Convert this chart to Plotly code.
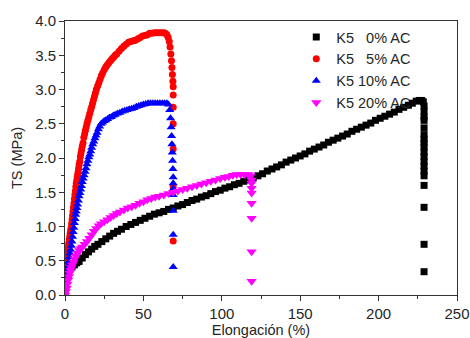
import plotly.graph_objects as go

# ---- data ----
k0_x = [0, 1, 2, 3, 4.5, 6, 7.5, 9, 11, 13,
        15, 17, 19, 21, 23.5, 26, 28.5, 31, 33.5, 36,
        39, 42, 45, 48, 51, 54, 57, 60, 63, 66,
        69, 72, 75, 78, 81, 84, 87, 90, 93, 96,
        99, 102, 105, 108, 111, 114, 117, 120, 123, 126,
        129, 132, 135, 138, 141, 144, 147, 150, 153, 156,
        159, 162, 165, 168, 171, 174, 177, 180, 183, 186,
        189, 192, 195, 198, 201, 204, 207, 210, 213, 216,
        219, 221.5, 224, 226, 227.5, 228.5, 229, 229, 229, 229,
        229, 229, 229, 229, 229, 229, 229, 229, 229, 229,
        229, 229, 229, 229, 229]
k0_y = [0.05, 0.20, 0.30, 0.37, 0.41, 0.44, 0.47, 0.49, 0.54, 0.59,
        0.63, 0.67, 0.71, 0.74, 0.78, 0.82, 0.86, 0.90, 0.93, 0.96,
        1.00, 1.03, 1.06, 1.09, 1.12, 1.15, 1.18, 1.20, 1.22, 1.25,
        1.27, 1.30, 1.32, 1.35, 1.38, 1.40, 1.43, 1.45, 1.48, 1.51,
        1.53, 1.56, 1.58, 1.61, 1.63, 1.66, 1.68, 1.71, 1.74, 1.77,
        1.81, 1.84, 1.87, 1.90, 1.94, 1.97, 2.00, 2.03, 2.06, 2.10,
        2.13, 2.16, 2.19, 2.23, 2.26, 2.29, 2.32, 2.35, 2.39, 2.42,
        2.45, 2.48, 2.51, 2.55, 2.58, 2.61, 2.64, 2.67, 2.71, 2.74,
        2.77, 2.80, 2.83, 2.84, 2.84, 2.82, 2.76, 2.68, 2.60, 2.55,
        2.44, 2.34, 2.28, 2.22, 2.16, 2.09, 2.02, 1.95, 1.88, 1.81,
        1.74, 1.60, 1.28, 0.74, 0.34]

k5_x = [0, 0.3, 0.6, 0.9, 1.2, 1.5, 1.8, 2.1, 2.4, 2.7,
        3.0, 3.3, 3.6, 3.9, 4.2, 4.5, 4.8, 5.1, 5.4, 5.7,
        6.0, 6.3, 6.6, 6.9, 7.2, 7.5, 7.8, 8.1, 8.4, 8.7,
        9.0, 9.4, 9.8, 10.2, 10.6, 11.0, 11.5, 12.0, 12.5, 13.0,
        13.5, 14.0, 14.6, 15.2, 15.8, 16.4, 17.0, 17.6, 18.2, 18.8,
        19.4, 20.0, 20.8, 21.6, 22.4, 23.2, 24.0, 25.0, 26.0, 27.0,
        28.0, 29.0, 30.0, 31.0, 32.0, 33.0, 34.5, 36.0, 37.5, 39.0,
        40.5, 42.0, 43.5, 45.0, 46.5, 48.0, 49.5, 51.0, 52.5, 54.0,
        55.5, 57.0, 58.5, 60.0, 61.5, 63.0, 64.0, 65.0, 65.8, 66.5,
        67.0, 67.5, 67.9, 68.2, 68.5, 68.8, 69.0, 69, 69, 69,
        69, 69, 69]
k5_y = [0.30, 0.36, 0.42, 0.48, 0.54, 0.60, 0.66, 0.71, 0.76, 0.81,
        0.85, 0.90, 0.94, 0.98, 1.04, 1.10, 1.16, 1.22, 1.28, 1.34,
        1.40, 1.46, 1.52, 1.58, 1.63, 1.67, 1.72, 1.76, 1.80, 1.85,
        1.90, 1.95, 2.02, 2.07, 2.12, 2.17, 2.22, 2.30, 2.35, 2.40,
        2.45, 2.50, 2.55, 2.60, 2.65, 2.70, 2.75, 2.80, 2.85, 2.90,
        2.95, 3.00, 3.05, 3.10, 3.15, 3.20, 3.24, 3.29, 3.33, 3.36,
        3.39, 3.42, 3.45, 3.47, 3.50, 3.52, 3.56, 3.60, 3.63, 3.66,
        3.69, 3.70, 3.71, 3.72, 3.74, 3.76, 3.78, 3.79, 3.80, 3.82,
        3.82, 3.83, 3.83, 3.83, 3.83, 3.83, 3.82, 3.80, 3.76, 3.70,
        3.62, 3.52, 3.42, 3.32, 3.22, 3.12, 3.04, 2.92, 2.74, 2.50,
        2.13, 1.58, 0.79]

k10_x = [0, 0.4, 0.8, 1.2, 1.6, 2.0, 2.4, 2.8, 3.2, 3.6,
         4.0, 4.4, 4.8, 5.2, 5.6, 6.0, 6.4, 6.8, 7.2, 7.6,
         8.0, 8.5, 9.0, 9.5, 10.0, 10.5, 11.0, 11.6, 12.2, 12.8,
         13.4, 14.0, 14.6, 15.2, 15.8, 16.4, 17.0, 17.7, 18.4, 19.1,
         19.8, 20.5, 21.3, 22.1, 23.0, 24.0, 25.0, 26.0, 27.2, 28.4,
         29.6, 30.8, 32.0, 33.5, 35.0, 36.5, 38.0, 39.5, 41.0, 42.5,
         44.0, 45.5, 47.0, 48.5, 50.0, 51.5, 53.0, 54.5, 56.0, 57.5,
         59.0, 60.5, 62.0, 63.5, 65.0, 66.0, 66.8, 67.3, 67.7, 68.0,
         68.2, 68.4, 68.6, 68.8, 69.0, 69, 69, 69, 69, 69,
         69]
k10_y = [0.20, 0.24, 0.28, 0.33, 0.37, 0.42, 0.48, 0.55, 0.61, 0.66,
         0.72, 0.78, 0.85, 0.92, 0.98, 1.05, 1.11, 1.17, 1.22, 1.27,
         1.32, 1.38, 1.44, 1.49, 1.54, 1.59, 1.65, 1.70, 1.75, 1.80,
         1.85, 1.91, 1.96, 2.01, 2.05, 2.10, 2.15, 2.20, 2.24, 2.29,
         2.33, 2.37, 2.42, 2.46, 2.50, 2.52, 2.54, 2.55, 2.57, 2.59,
         2.60, 2.62, 2.63, 2.65, 2.66, 2.68, 2.69, 2.70, 2.71, 2.72,
         2.73, 2.75, 2.76, 2.77, 2.78, 2.79, 2.80, 2.80, 2.80, 2.80,
         2.80, 2.80, 2.80, 2.80, 2.80, 2.78, 2.70, 2.58, 2.45, 2.32,
         2.20, 2.08, 1.96, 1.84, 1.72, 1.63, 1.55, 1.46, 1.23, 0.88,
         0.41]

k20_x = [0, 0.5, 1.0, 1.5, 2.0, 2.5, 3.0, 3.5, 4.0, 4.7,
         5.4, 6.2, 7.0, 8.0, 9.0, 10.0, 11.0, 12.5, 14.0, 15.5,
         17.0, 18.5, 20.0, 21.5, 23.0, 25.0, 27.0, 29.0, 31.0, 33.0,
         35.0, 37.5, 40.0, 42.5, 45.0, 47.5, 50.0, 52.5, 55.0, 57.5,
         60.0, 63.0, 66.0, 69.0, 72.0, 75.0, 78.0, 81.0, 84.0, 87.0,
         90.0, 93.0, 96.0, 99.0, 102.0, 104.5, 107.0, 109.5, 112.0, 114.5,
         117.0, 118.5, 119, 119, 119, 119, 119, 119, 119, 119]
k20_y = [0.00, 0.05, 0.10, 0.16, 0.22, 0.27, 0.32, 0.36, 0.40, 0.44,
         0.48, 0.53, 0.57, 0.61, 0.65, 0.68, 0.70, 0.74, 0.78, 0.83,
         0.88, 0.93, 0.97, 1.01, 1.04, 1.07, 1.10, 1.13, 1.16, 1.19,
         1.21, 1.24, 1.27, 1.29, 1.31, 1.34, 1.36, 1.39, 1.41, 1.43,
         1.44, 1.46, 1.48, 1.50, 1.52, 1.54, 1.56, 1.58, 1.60, 1.62,
         1.64, 1.66, 1.68, 1.70, 1.72, 1.73, 1.75, 1.76, 1.76, 1.76,
         1.76, 1.74, 1.68, 1.63, 1.56, 1.49, 1.34, 1.12, 0.63, 0.20]

names = ["K5\u00a0\u00a0\u00a00% AC", "K5\u00a0\u00a0\u00a05% AC", "K5 10% AC", "K5 20% AC"]
x_ticks = [0, 50, 100, 150, 200, 250]
y_ticks = [0, 0.5, 1.0, 1.5, 2.0, 2.5, 3.0, 3.5, 4.0]
y_ticktext = ["0.0", "0.5", "1.0", "1.5", "2.0", "2.5", "3.0", "3.5", "4.0"]

FONT = "Liberation Sans, Arial"
TXT = "#262626"

fig = go.Figure()
fig.add_trace(go.Scatter(x=k0_x, y=k0_y, mode="markers", name=names[0],
                         marker=dict(symbol="square", size=7, color="black")))
fig.add_trace(go.Scatter(x=k5_x, y=k5_y, mode="markers", name=names[1],
                         marker=dict(symbol="circle", size=7, color="red")))
fig.add_trace(go.Scatter(x=k10_x, y=k10_y, mode="markers", name=names[2],
                         marker=dict(symbol="triangle-up", size=8, color="blue")))
fig.add_trace(go.Scatter(x=k20_x, y=k20_y, mode="markers", name=names[3],
                         marker=dict(symbol="triangle-down", size=9, color="magenta")))

axis_common = dict(showgrid=False, zeroline=False, showline=True, linecolor="#333333", linewidth=1,
                   mirror=True, ticks="outside", ticklen=5, tickcolor="#333333", automargin=False,
                   tickfont=dict(family=FONT, size=15, color=TXT))

fig.update_xaxes(range=[0, 250], tickvals=x_ticks,
                 minor=dict(ticks="outside", ticklen=3, dtick=25, tick0=0, tickcolor="#333333"),
                 title=dict(text="Elongación (%)", standoff=8,
                            font=dict(family=FONT, size=14.5, color=TXT)),
                 **axis_common)
fig.update_yaxes(range=[0, 4.0], tickvals=y_ticks, ticktext=y_ticktext,
                 minor=dict(ticks="outside", ticklen=3, dtick=0.25, tick0=0, tickcolor="#333333"),
                 title=dict(text="TS (MPa)", standoff=9,
                            font=dict(family=FONT, size=14.5, color=TXT)),
                 **axis_common)

fig.update_layout(
    width=470, height=338,
    margin=dict(l=65, r=13, t=21, b=43),
    paper_bgcolor="white", plot_bgcolor="white",
    showlegend=True,
    legend=dict(x=0.59, y=1.0, xanchor="left", yanchor="top", bgcolor="rgba(0,0,0,0)",
                font=dict(family=FONT, size=14.5, color=TXT),
                itemwidth=30, tracegroupgap=0),
)

fig.write_html("out.html", config={"displayModeBar": False},
               post_script="document.body.style.margin='0';document.body.style.padding='0';"
                           "document.body.style.overflow='hidden';")
